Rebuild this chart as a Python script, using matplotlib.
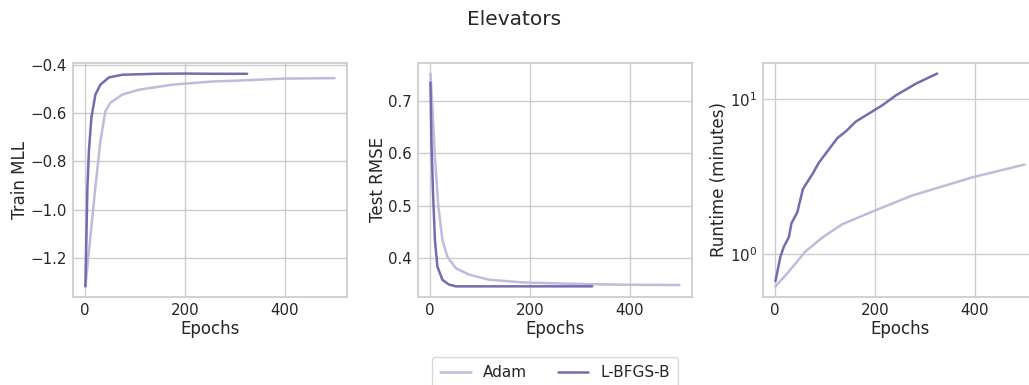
import matplotlib
matplotlib.use("Agg")
import matplotlib.pyplot as plt
import seaborn as sns

# Values
adam_mll_epochs = [1, 11, 21, 31, 41, 51, 75, 108, 175, 255, 297, 398, 500]
adam_mll = [-1.317, -1.111, -0.906, -0.715, -0.592, -0.557, -0.523, -0.503, -0.482, -0.469, -0.466, -0.457, -0.455]
lbfgs_mll_epochs = [1, 5, 8, 13, 21, 31, 48, 75, 141, 200, 260, 325]
lbfgs_mll = [-1.317, -0.906, -0.756, -0.619, -0.523, -0.482, -0.452, -0.441, -0.437, -0.436, -0.437, -0.437]

adam_rmse_epochs = [1, 5, 10, 17, 25, 35, 52, 78, 119, 186, 273, 373, 500]
adam_rmse = [0.752, 0.686, 0.592, 0.497, 0.435, 0.403, 0.381, 0.369, 0.359, 0.354, 0.3516, 0.3497, 0.349]
lbfgs_rmse_epochs = [1, 3, 6, 10, 15, 25, 38, 52, 105, 200, 325]
lbfgs_rmse = [0.735, 0.623, 0.529, 0.435, 0.384, 0.359, 0.350, 0.3465, 0.3465, 0.3465, 0.3465]

adam_time_epochs = [1, 28, 61, 95, 135, 200, 275, 399, 500]
adam_time = [0.62, 0.774, 1.04, 1.28, 1.56, 1.91, 2.39, 3.15, 3.78]
lbfgs_time_epochs = [1, 11, 18, 28, 33, 45, 48, 56, 75, 88, 105, 125, 142, 162,
                     189, 216, 243, 283, 325]
lbfgs_time = [0.67, 0.966, 1.12, 1.29, 1.58, 1.87, 2.06, 2.63, 3.28, 3.89, 4.6,
              5.6, 6.19, 7.16, 8.09, 9.16, 10.6, 12.6, 14.6]

c_adam = "#bcbddc"
c_lbfgs = "#756bb1"

sns.set_theme(style="whitegrid")
plt.rcParams["font.family"] = ["DejaVu Sans"]

fig = plt.figure(figsize=(10.29, 3.85), dpi=100)
bottom, height, width = 0.2286, 0.608, 0.2663
ax1 = fig.add_axes([0.0709, bottom, width, height])
ax2 = fig.add_axes([0.4062, bottom, width, height])
ax3 = fig.add_axes([0.7415, bottom, width, height])

panels = [
    (ax1, adam_mll_epochs, adam_mll, lbfgs_mll_epochs, lbfgs_mll, "Train MLL"),
    (ax2, adam_rmse_epochs, adam_rmse, lbfgs_rmse_epochs, lbfgs_rmse, "Test RMSE"),
    (ax3, adam_time_epochs, adam_time, lbfgs_time_epochs, lbfgs_time, "Runtime (minutes)"),
]
for ax, xa, ya, xl, yl, lab in panels:
    ax.plot(xa, ya, color=c_adam, lw=1.8, label="Adam")
    ax.plot(xl, yl, color=c_lbfgs, lw=1.8, label="L-BFGS-B")
    ax.set_xlabel("Epochs", fontsize=12, labelpad=1)
    ax.set_ylabel(lab, fontsize=12, labelpad=1)
    ax.set_xticks([0, 200, 400])
    ax.tick_params(labelsize=10.8, length=0, pad=4.5)

ax1.set_yticks([-1.2, -1.0, -0.8, -0.6, -0.4])
ax2.set_yticks([0.4, 0.5, 0.6, 0.7])
ax3.set_yscale("log")
ax3.minorticks_off()

fig.suptitle("Elevators", fontsize=14.5, y=0.975)
ax2.legend(loc="upper center", bbox_to_anchor=(0.5, -0.222), ncol=2,
           fontsize=11, frameon=True, handlelength=2, columnspacing=2,
           borderpad=0.55)

fig.savefig("out.png", dpi=100)
